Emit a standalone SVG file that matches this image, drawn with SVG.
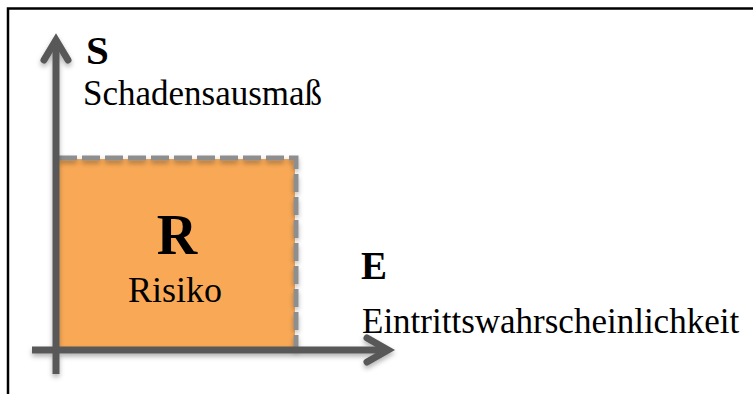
<svg xmlns="http://www.w3.org/2000/svg" width="753" height="394" viewBox="0 0 753 394">
  <style>
    .frame { fill: none; stroke: #000; stroke-width: 2.5; }
    .axis { fill: none; stroke: #595959; stroke-width: 7; stroke-linecap: butt; }
    .head { fill: none; stroke: #595959; stroke-width: 7; stroke-linecap: round; stroke-linejoin: miter; }
    .area { fill: #F9A956; }
    .limit { fill: none; stroke: #8E8E8E; stroke-width: 5; stroke-dasharray: 18 5; }
    .sym { font-family: "Liberation Serif", "DejaVu Serif", serif; font-weight: bold; fill: #000; }
    .lbl { font-family: "Liberation Serif", "DejaVu Serif", serif; fill: #000; }
  </style>
  <defs>
    <filter id="shadow" x="-10%" y="-10%" width="120%" height="130%">
      <feDropShadow dx="0" dy="3" stdDeviation="2.5" flood-color="#000" flood-opacity="0.3"/>
    </filter>
  </defs>

  <rect x="0" y="0" width="753" height="394" fill="#fff"/>
  <!-- outer frame: top and left edges -->
  <path class="frame" d="M8 394 V8.5 H753"/>

  <!-- risk area -->
  <g id="risk">
    <rect class="area" x="59" y="159" width="236" height="191"/>
    <path class="limit" d="M59 158 H296 V350" filter="url(#shadow)"/>
    <text class="sym" x="177" y="254" font-size="56" text-anchor="middle">R</text>
    <text class="lbl" x="175" y="302" font-size="36" text-anchor="middle">Risiko</text>
  </g>

  <!-- axes -->
  <g id="connectors" filter="url(#shadow)">
    <path class="axis" d="M56 374 V40"/>
    <path class="head" d="M44 60 L56 40 L68 60"/>
    <path class="axis" d="M32 350 H388"/>
    <path class="head" d="M367 338 L388 350 L367 362"/>
  </g>

  <g id="axis-s">
    <text class="sym" x="86" y="64" font-size="41">S</text>
    <text class="lbl" x="83" y="105" font-size="35">Schadensausmaß</text>
  </g>

  <g id="axis-e">
    <text class="sym" x="361" y="279" font-size="39">E</text>
    <text class="lbl" x="362" y="333" font-size="35">Eintrittswahrscheinlichkeit</text>
  </g>
</svg>
